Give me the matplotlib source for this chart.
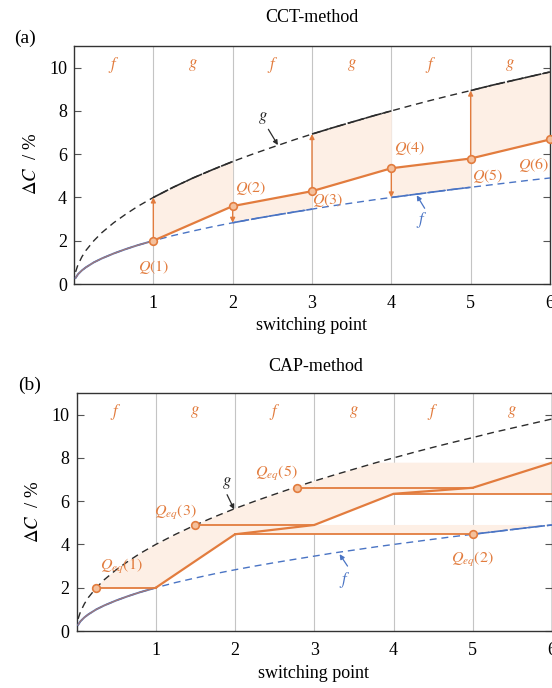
import numpy as np
import matplotlib
matplotlib.use("Agg")
import matplotlib.pyplot as plt
from matplotlib.patches import Polygon

plt.rcParams['font.family'] = ['Liberation Serif', 'DejaVu Serif']
plt.rcParams['mathtext.fontset'] = 'stix'

# ---------------- data ----------------
curve_x = [0.02, 0.05, 0.1, 0.15, 0.25, 0.35, 0.5, 0.65, 0.8, 1.0, 1.25, 1.5, 1.75,
           2.0, 2.25, 2.5, 2.78, 3.0, 3.25, 3.5, 3.78, 4.0, 4.25, 4.5, 4.75, 5.0,
           5.25, 5.5, 5.75, 6.0]
f_vals = [0.28, 0.45, 0.63, 0.77, 1.0, 1.18, 1.41, 1.61, 1.79, 2.0, 2.24, 2.45, 2.65,
          2.83, 3.0, 3.16, 3.33, 3.46, 3.61, 3.74, 3.89, 4.0, 4.12, 4.24, 4.36, 4.47,
          4.58, 4.69, 4.80, 4.90]
g_vals = [0.56, 0.89, 1.26, 1.55, 2.0, 2.37, 2.83, 3.22, 3.58, 4.0, 4.47, 4.90, 5.29,
          5.66, 6.0, 6.32, 6.67, 6.93, 7.21, 7.48, 7.78, 8.0, 8.25, 8.49, 8.72, 8.94,
          9.17, 9.38, 9.59, 9.80]

segment_labels = ['f', 'g', 'f', 'g', 'f', 'g']
switch_x = [1, 2, 3, 4, 5, 6]

# (a) CCT-method
cct_y = [2.0, 3.6, 4.29, 5.35, 5.8, 6.68]
cct_labels = ['$Q(1)$', '$Q(2)$', '$Q(3)$', '$Q(4)$', '$Q(5)$', '$Q(6)$']
cct_label_x = [1.0, 2.23, 3.2, 4.23, 5.21, 5.8]
cct_label_y = [0.78, 4.42, 3.87, 6.3, 4.98, 5.48]

# (b) CAP-method
cap_y = [2.0, 4.47, 4.9, 6.34, 6.62, 7.78]
eq_x = [0.25, 5.0, 1.5, 2.78]
eq_y = [2.0, 4.47, 4.9, 6.62]
eq_labels = ['$Q_{eq}(1)$', '$Q_{eq}(2)$', '$Q_{eq}(3)$', '$Q_{eq}(5)$']
eq_label_x = [0.56, 5.0, 1.25, 2.52]
eq_label_y = [2.96, 3.3, 5.5, 7.3]
h_y = [2.0, 4.9, 4.47, 6.62, 6.34]
h_x0 = [0.25, 1.5, 2.0, 2.78, 4.0]
h_x1 = [1.0, 3.0, 5.0, 5.0, 6.0]

# ---------------- styles ----------------
ORANGE = '#E27C3E'
MFACE = '#F4C09C'
FILL = '#FDEFE5'
BLUE = '#4A74C4'
DARK = '#2B2B2B'
GRID = '#C4C4C4'

cx = np.array(curve_x)
cf = np.array(f_vals)
cg = np.array(g_vals)
curves = {'f': cf, 'g': cg}


def seg(name, a, b):
    ys = curves[name]
    m = (cx > a) & (cx < b)
    xs = np.concatenate([[a], cx[m], [b]])
    yy = np.concatenate([[np.interp(a, cx, ys)], ys[m], [np.interp(b, cx, ys)]])
    return xs, yy


def setup(ax):
    ax.set_xlim(0, 6)
    ax.set_ylim(0, 11)
    ax.set_xticks(switch_x)
    ax.set_yticks([0, 2, 4, 6, 8, 10])
    ax.tick_params(axis='y', direction='in', left=True, right=True, length=5,
                   width=0.8, labelsize=13, pad=5, color='#555555')
    ax.tick_params(axis='x', direction='in', bottom=False, top=False,
                   labelsize=13, pad=8)
    for s in ax.spines.values():
        s.set_linewidth(1.0)
        s.set_color('#333333')
    for xv in switch_x[:-1]:
        ax.axvline(xv, color=GRID, lw=0.8, zorder=1)
    for i, lab in enumerate(segment_labels):
        ax.text(i + 0.5, 10.1, '$%s$' % lab, color=ORANGE, fontsize=12,
                ha='center', va='center', zorder=6)


def draw_curves(ax, solid_f, solid_g):
    ax.plot(cx, cg, color=DARK, lw=1.0, dashes=[5, 3.5], zorder=3)
    ax.plot(cx, cf, color=BLUE, lw=1.0, dashes=[5, 3.5], zorder=3)
    for a, b in solid_f:
        xs, ys = seg('f', a, b)
        ax.plot(xs, ys, color=BLUE, lw=1.2, dashes=[10, 1.2], zorder=4)
    for a, b in solid_g:
        xs, ys = seg('g', a, b)
        ax.plot(xs, ys, color=DARK, lw=1.2, dashes=[10, 1.2], zorder=4)


fig = plt.figure(figsize=(5.52, 6.88), dpi=100)
W, H = 552.0, 688.0
ax1 = fig.add_axes([74 / W, 1 - 284 / H, 476 / W, 238 / H])
ax2 = fig.add_axes([76.5 / W, 1 - 631 / H, 475.5 / W, 238 / H])

# ================= (a) =================
setup(ax1)
draw_curves(ax1, solid_f=[(2, 3), (4, 5)], solid_g=[(1, 2), (3, 4), (5, 6)])
for i in range(1, 6):
    a, b = switch_x[i - 1], switch_x[i]
    xs, ys = seg(segment_labels[i], a, b)
    py = np.interp(xs, switch_x, cct_y)
    ax1.fill_between(xs, py, ys, color=FILL, lw=0, zorder=2)
# path on f in first segment
xs0, ys0 = seg('f', 0.02, 1)
ax1.plot(xs0, ys0, color=BLUE, lw=1.4, zorder=4)
ax1.plot(xs0, ys0, color=ORANGE, lw=0.9, alpha=0.6, zorder=5)
ax1.plot(switch_x, cct_y, color=ORANGE, lw=1.6, zorder=5)
# vertical switching arrows
for i in range(5):
    xv = switch_x[i]
    target = np.interp(xv, cx, curves[segment_labels[i + 1]])
    ax1.annotate('', xy=(xv, target), xytext=(xv, cct_y[i]),
                 arrowprops=dict(arrowstyle='-|>', color=ORANGE, lw=1.0,
                                 mutation_scale=7, shrinkA=0, shrinkB=0),
                 zorder=5)
ax1.plot(switch_x, cct_y, 'o', ms=5.5, mfc=MFACE, mec=ORANGE, mew=1.2,
         zorder=7, clip_on=False)
for t, lx, ly in zip(cct_labels, cct_label_x, cct_label_y):
    ax1.text(lx, ly, t, color=ORANGE, fontsize=11.5, ha='center', va='center', zorder=8)
ax1.text(2.38, 7.65, '$g$', color=DARK, fontsize=12, ha='center', va='center')
ax1.annotate('', xy=(2.57, 6.42), xytext=(2.45, 7.15),
             arrowprops=dict(arrowstyle='-|>', color=DARK, lw=0.9, mutation_scale=7,
                             shrinkA=0, shrinkB=0))
ax1.text(4.38, 2.95, '$f$', color=BLUE, fontsize=12, ha='center', va='center')
ax1.annotate('', xy=(4.32, 4.1), xytext=(4.42, 3.5),
             arrowprops=dict(arrowstyle='-|>', color=BLUE, lw=0.9, mutation_scale=7,
                             shrinkA=0, shrinkB=0))

# ================= (b) =================
setup(ax2)
draw_curves(ax2, solid_f=[(5, 6)], solid_g=[])


def pxy(i):
    return (switch_x[i], cap_y[i])


def g_at_level(level):
    return np.interp(level, cg, cx)


polys = []
# R1: g from Qeq(1) to Qeq(3), across to path at 3, back along path to 1
xs, ys = seg('g', eq_x[0], eq_x[2])
polys.append(list(zip(xs, ys)) + [(h_x1[1], h_y[1]), pxy(1), pxy(0)])
# R2: g from Qeq(3) to Qeq(5), across to path at 5, back along path to 3
xs, ys = seg('g', eq_x[2], eq_x[3])
polys.append(list(zip(xs, ys)) + [(h_x1[3], h_y[3]), pxy(3), pxy(2)])
# R3: g from Qeq(5) up to level of path at 6, across, back along path to 5
xg = g_at_level(cap_y[5])
xs, ys = seg('g', eq_x[3], xg)
polys.append(list(zip(xs, ys)) + [pxy(5), pxy(4)])
# R4: f-side band between level at 2 and path
xs, ys = seg('f', eq_x[1], 6)
polys.append([pxy(1), (h_x1[2], h_y[2])] + list(zip(xs, ys)) + [pxy(2)])
# R5: f-side band above level at 4
polys.append([pxy(3), (h_x1[4], h_y[4]), pxy(5), pxy(4)])
for p in polys:
    ax2.add_patch(Polygon(p, closed=True, facecolor=FILL, edgecolor='none', zorder=2))

ax2.plot(xs0, ys0, color=BLUE, lw=1.4, zorder=4)
ax2.plot(xs0, ys0, color=ORANGE, lw=0.9, alpha=0.6, zorder=5)
ax2.plot(switch_x, cap_y, color=ORANGE, lw=1.6, zorder=5)
for y, a, b in zip(h_y, h_x0, h_x1):
    ax2.plot([a, b], [y, y], color=ORANGE, lw=1.3, zorder=5)
ax2.plot(eq_x, eq_y, 'o', ms=5.5, mfc=MFACE, mec=ORANGE, mew=1.2, zorder=7)
for t, lx, ly in zip(eq_labels, eq_label_x, eq_label_y):
    ax2.text(lx, ly, t, color=ORANGE, fontsize=11.5, ha='center', va='center', zorder=8)
ax2.text(1.9, 6.85, '$g$', color=DARK, fontsize=12, ha='center', va='center')
ax2.annotate('', xy=(1.99, 5.62), xytext=(1.9, 6.3),
             arrowprops=dict(arrowstyle='-|>', color=DARK, lw=0.9, mutation_scale=7,
                             shrinkA=0, shrinkB=0))
ax2.text(3.38, 2.36, '$f$', color=BLUE, fontsize=12, ha='center', va='center')
ax2.annotate('', xy=(3.32, 3.55), xytext=(3.42, 3.0),
             arrowprops=dict(arrowstyle='-|>', color=BLUE, lw=0.9, mutation_scale=7,
                             shrinkA=0, shrinkB=0))

# ---------------- figure texts ----------------
fig.text(312 / W, 1 - 18 / H, 'CCT-method', fontsize=13, ha='center', va='center')
fig.text(316 / W, 1 - 367 / H, 'CAP-method', fontsize=13, ha='center', va='center')
fig.text(25 / W, 1 - 38 / H, '(a)', fontsize=14, ha='center', va='center')
fig.text(30 / W, 1 - 385 / H, '(b)', fontsize=14, ha='center', va='center')
fig.text(312 / W, 1 - 325 / H, 'switching point', fontsize=13, ha='center', va='center')
fig.text(314 / W, 1 - 673 / H, 'switching point', fontsize=13, ha='center', va='center')
fig.text(32 / W, 1 - 164 / H, r'$\Delta C$  / %', fontsize=13.5, rotation=90,
         ha='center', va='center')
fig.text(33 / W, 1 - 512 / H, r'$\Delta C$  / %', fontsize=13.5, rotation=90,
         ha='center', va='center')

fig.savefig('out.png', dpi=100)
